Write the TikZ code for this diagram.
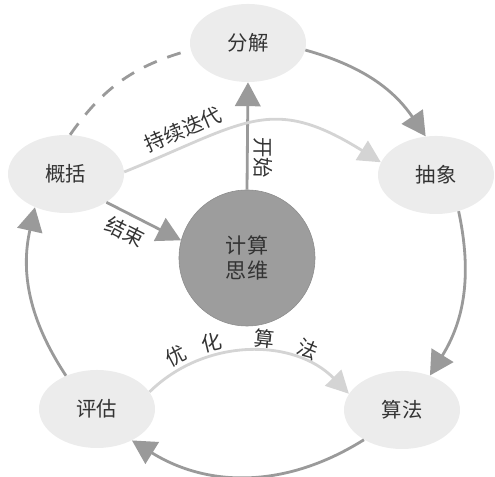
\documentclass[tikz,border=0pt]{standalone}
\usepackage{fontspec}
\newfontfamily\cjk{Noto Sans CJK SC}
\usetikzlibrary{shapes,arrows.meta,positioning}
\definecolor{cycGray}{HTML}{9A9A9A}
\definecolor{cycLight}{HTML}{D4D4D4}
\definecolor{cycFill}{HTML}{ECECEC}
\definecolor{cycCore}{HTML}{9D9D9D}
\definecolor{cycText}{HTML}{333333}

\begin{document}
\begin{tikzpicture}[
    x=0.025cm, y=0.025cm,
    every node/.style={font=\cjk\fontsize{14.5}{16}\selectfont, text=cycText},
    stage/.style={ellipse, fill=cycFill, minimum width=2.9cm,
                  minimum height=1.95cm, font=\cjk\fontsize{14.5}{16}\selectfont},
    core/.style={circle, fill=cycCore, draw=black!45, minimum size=3.4cm,
                 align=center, inner sep=0pt, font=\cjk\fontsize{15}{18}\selectfont},
    flow/.style={draw=cycGray, line width=2pt,
                 -{Triangle[length=17pt, width=18pt]}},
    loop/.style={draw=cycLight, line width=2pt,
                 -{Triangle[length=16pt, width=16pt]}},
  ]
  \useasboundingbox (0,0) rectangle (495,477);

  % Stages of the cycle
  \node[stage] (fenjie)    at (248,434) {分解};
  \node[stage] (chouxiang) at (436,302) {抽象};
  \node[stage] (suanfa)    at (402,67)  {算法};
  \node[stage] (pinggu)    at (97,68)   {评估};
  \node[stage] (gaikuo)    at (66,303)  {概括};

  % Centre
  \node[core] (siwei) at (247,219) {计算\\思维};

  % Outer cycle
  \draw[flow] (fenjie.-7) to[bend left=20] (chouxiang.105);
  \draw[flow] (chouxiang.-58) to[bend left=22] (suanfa.51);
  \draw[flow] (suanfa.-142) to[bend left=32] (pinggu.-42);
  \draw[flow] (pinggu.133) to[bend left=23] (gaikuo.-133);
  \draw[cycGray, line width=2pt, dash pattern=on 10pt off 8pt]
    (gaikuo.84) to[bend left=20] (fenjie.187);

  % Start and end
  \draw[flow] (siwei.north) -- (fenjie.south)
    node[pos=0.3, anchor=south, rotate=-90, inner sep=3.5pt] {开始};
  \draw[flow] (gaikuo.-35) -- (siwei.165)
    node[pos=0.36, sloped, below, inner sep=5pt] {结束};

  % Iteration loops
  \draw[loop] (gaikuo.2) to[out=22, in=148, looseness=1.3]
    node[pos=0.21, sloped, above, inner sep=4pt] {持续迭代} (chouxiang.167);
  \draw[loop] (pinggu.18) to[bend left=45]
    node[pos=0.18, sloped, above, inner sep=2pt] {优}
    node[pos=0.34, sloped, above, inner sep=2pt] {化}
    node[pos=0.56, sloped, above, inner sep=2pt] {算}
    node[pos=0.75, sloped, above, inner sep=2pt] {法} (suanfa.163);
\end{tikzpicture}
\end{document}
